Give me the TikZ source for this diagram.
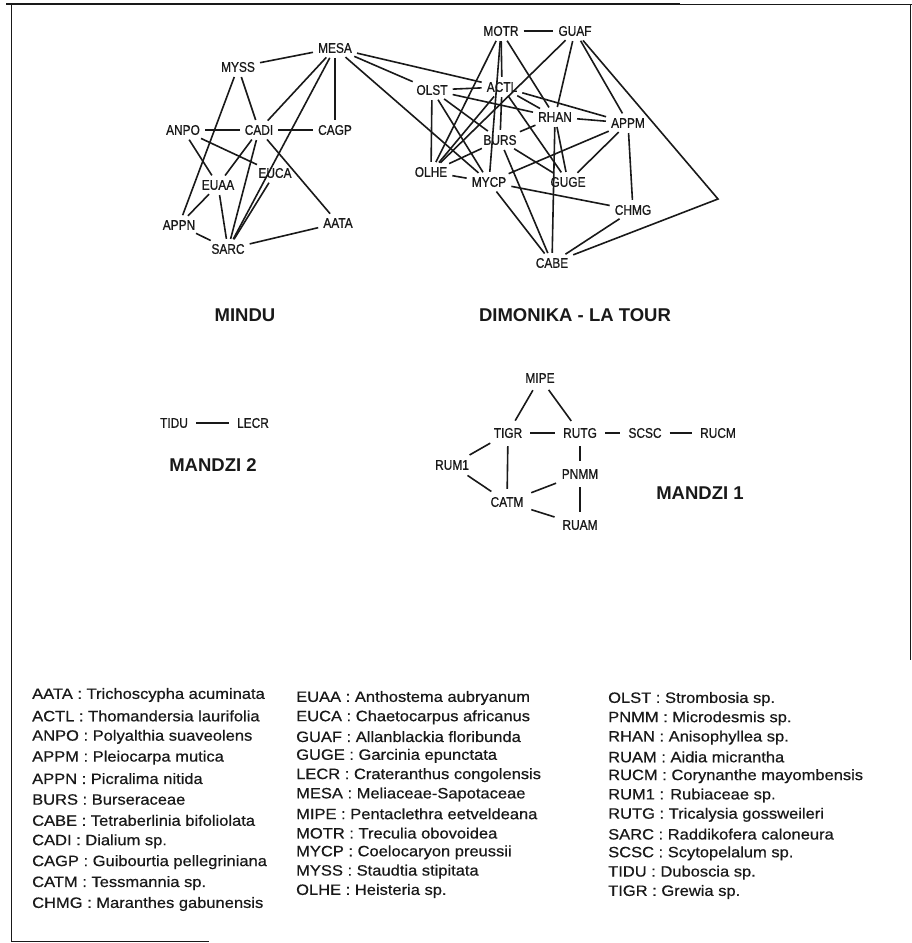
\documentclass[tikz,border=0pt]{standalone}
\usepackage{fontspec}
\setmainfont{Liberation Sans}
\newfontfamily\graphfont[FakeStretch=0.85,FakeBold=0.8]{Liberation Sans}
\newfontfamily\legfont[FakeStretch=1.1,FakeBold=0.6]{Liberation Sans}
\definecolor{ink}{RGB}{25,25,25}

\begin{document}
\begin{tikzpicture}[x=1pt,y=-1pt,
  sp/.style={inner sep=2pt,text=ink,font=\graphfont\fontsize{14}{14}\selectfont},
  ttl/.style={text=ink,font=\bfseries\fontsize{18.5}{18.5}\selectfont},
  lk/.style={ink,line width=1.6pt,shorten <=3pt,shorten >=3pt},
  lkm/.style={lk,shorten <=6pt,shorten >=6pt},
  leg/.style={anchor=west,inner sep=0pt,text=ink,font=\legfont\fontsize{15}{15}\selectfont}]
  \useasboundingbox (0,0) rectangle (912,943);
  % page frame
  \draw[ink,line width=1.8pt] (6,4) -- (680,4);
  \draw[ink,line width=1pt] (680,4) -- (912,4);
  \draw[ink,line width=1pt] (11,4) -- (11,941) -- (209,941);
  \draw[ink,line width=1pt] (910,4) -- (910,660);

  % Mindu
  \node[sp] (MESA) at (335,48) {MESA};
  \node[sp] (MYSS) at (238,67) {MYSS};
  \node[sp] (ANPO) at (183,130) {ANPO};
  \node[sp] (CADI) at (259,130) {CADI};
  \node[sp] (CAGP) at (335,130) {CAGP};
  \node[sp] (EUCA) at (275,173) {EUCA};
  \node[sp] (EUAA) at (218,185) {EUAA};
  \node[sp] (APPN) at (179,225) {APPN};
  \node[sp] (AATA) at (338,223) {AATA};
  \node[sp] (SARC) at (228,249) {SARC};
  \foreach \a/\b in {MESA/MYSS,MESA/CADI,MESA/CAGP,MESA/SARC,MYSS/CADI,MYSS/APPN,
      ANPO/CADI,CADI/CAGP,ANPO/EUAA,ANPO/EUCA,CADI/EUAA,CADI/SARC,CADI/AATA,
      EUCA/SARC,EUAA/SARC,APPN/EUAA,APPN/SARC,SARC/AATA}
    \draw[lk] (\a) -- (\b);
  \node[ttl] (tMindu) at (245,315) {MINDU};

  % Dimonika - La Tour
  \node[sp] (MOTR) at (501,31) {MOTR};
  \node[sp] (GUAF) at (575,31) {GUAF};
  \node[sp] (OLST) at (432,90) {OLST};
  \node[sp] (ACTL) at (502,87) {ACTL};
  \node[sp] (RHAN) at (555,117) {RHAN};
  \node[sp] (APPM) at (628,123) {APPM};
  \node[sp] (BURS) at (500,140) {BURS};
  \node[sp] (OLHE) at (431,172) {OLHE};
  \node[sp] (MYCP) at (489,182) {MYCP};
  \node[sp] (GUGE) at (568,182) {GUGE};
  \node[sp] (CHMG) at (633,210) {CHMG};
  \node[sp] (CABE) at (552,263) {CABE};
  \coordinate (gbend) at (718,199);
  \foreach \a/\b in {MOTR/GUAF,MOTR/ACTL,MOTR/OLHE,MOTR/MYCP,MOTR/RHAN,
      GUAF/RHAN,GUAF/APPM,GUAF/OLHE,MESA/OLST,MESA/ACTL,MESA/MYCP,
      OLST/ACTL,OLST/OLHE,OLST/MYCP,OLST/RHAN,OLST/BURS,
      ACTL/APPM,ACTL/RHAN,ACTL/GUGE,ACTL/BURS,ACTL/OLHE,
      BURS/OLHE,BURS/RHAN,BURS/GUGE,BURS/CABE,
      OLHE/MYCP,MYCP/APPM,MYCP/CHMG,MYCP/CABE,
      RHAN/APPM,RHAN/CABE,RHAN/GUGE,GUGE/APPM,APPM/CHMG,CHMG/CABE}
    \draw[lk] (\a) -- (\b);
  \draw[lk] (GUAF) -- (gbend) -- (CABE);
  \node[ttl] (tDimo) at (575,315) {DIMONIKA - LA TOUR};

  % Mandzi 2
  \node[sp] (TIDU) at (174,423) {TIDU};
  \node[sp] (LECR) at (253,423) {LECR};
  \draw[lkm] (TIDU) -- (LECR);
  \node[ttl] (tMz2) at (213,465) {MANDZI 2};

  % Mandzi 1
  \node[sp] (MIPE) at (540,378) {MIPE};
  \node[sp] (TIGR) at (508,433) {TIGR};
  \node[sp] (RUTG) at (580,433) {RUTG};
  \node[sp] (SCSC) at (645,433) {SCSC};
  \node[sp] (RUCM) at (718,433) {RUCM};
  \node[sp] (RUM1) at (452,465) {RUM1};
  \node[sp] (PNMM) at (580,474) {PNMM};
  \node[sp] (CATM) at (507,502) {CATM};
  \node[sp] (RUAM) at (580,525) {RUAM};
  \foreach \a/\b in {MIPE/TIGR,MIPE/RUTG,TIGR/RUTG,RUTG/SCSC,SCSC/RUCM,
      TIGR/RUM1,TIGR/CATM,RUTG/PNMM,RUM1/CATM,CATM/PNMM,CATM/RUAM,PNMM/RUAM}
    \draw[lkm] (\a) -- (\b);
  \node[ttl] (tMz1) at (700,493) {MANDZI 1};

  % legend
  \foreach \c/\n [count=\i] in {AATA/Trichoscypha acuminata,ACTL/Thomandersia laurifolia,
      ANPO/Polyalthia suaveolens,APPM/Pleiocarpa mutica,APPN/Picralima nitida,
      BURS/Burseraceae,CABE/Tetraberlinia bifoliolata,CADI/Dialium sp.,
      CAGP/Guibourtia pellegriniana,CATM/Tessmannia sp.,CHMG/Maranthes gabunensis}
    \node[leg] (lg\c) at (32,{695+20.9*(\i-1)}) {\c\ : \n};
  \foreach \c/\n [count=\i] in {EUAA/Anthostema aubryanum,EUCA/Chaetocarpus africanus,
      GUAF/Allanblackia floribunda,GUGE/Garcinia epunctata,LECR/Crateranthus congolensis,
      MESA/Meliaceae-Sapotaceae,MIPE/Pentaclethra eetveldeana,MOTR/Treculia obovoidea,
      MYCP/Coelocaryon preussii,MYSS/Staudtia stipitata,OLHE/Heisteria sp.}
    \node[leg] (lg\c) at (296,{698+19.3*(\i-1)}) {\c\ : \n};
  \foreach \c/\n [count=\i] in {OLST/Strombosia sp.,PNMM/Microdesmis sp.,RHAN/Anisophyllea sp.,
      RUAM/Aidia micrantha,RUCM/Corynanthe mayombensis,RUM1/Rubiaceae sp.,
      RUTG/Tricalysia gossweileri,SARC/Raddikofera caloneura,SCSC/Scytopelalum sp.,
      TIDU/Duboscia sp.,TIGR/Grewia sp.}
    \node[leg] (lg\c) at (608,{699+19.3*(\i-1)}) {\c\ : \n};
\end{tikzpicture}
\end{document}
